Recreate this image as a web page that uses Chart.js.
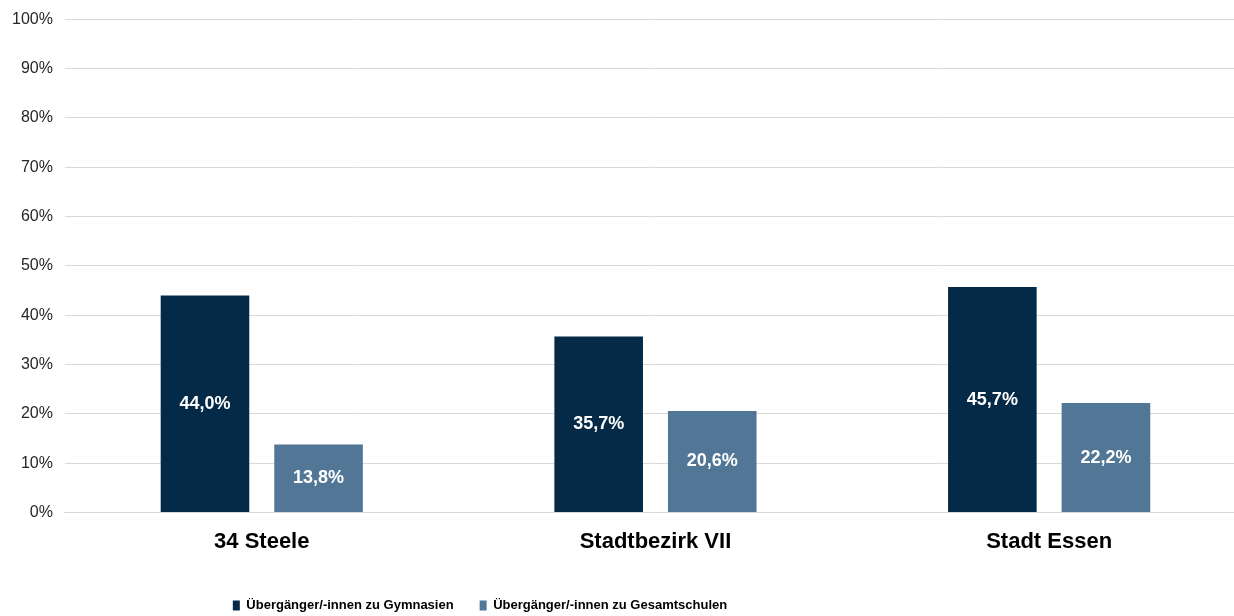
<!DOCTYPE html>
<html>
<head>
<meta charset="utf-8">
<script src="https://cdn.jsdelivr.net/npm/chart.js@4/dist/chart.umd.min.js"></script>
<style>
  html, body { margin: 0; padding: 0; background: #fff; }
  #wrap { width: 1234px; height: 616px; position: relative; }
</style>
</head>
<body>
<div id="wrap"><canvas id="chart"></canvas></div>
<script>
const categories = ['34 Steele', 'Stadtbezirk VII', 'Stadt Essen'];
const gymnasien = [44.0, 35.7, 45.7];
const gesamtschulen = [13.8, 20.6, 22.2];
const seriesNames = ['Übergänger/-innen zu Gymnasien', 'Übergänger/-innen zu Gesamtschulen'];
const yTicks = [0, 10, 20, 30, 40, 50, 60, 70, 80, 90, 100];

const darkBlue = '#052a47';
const steelBlue = '#527796';
const fontFamily = '"Liberation Sans", Arial, sans-serif';

// white value labels centered in each bar
const barLabels = {
  id: 'barLabels',
  afterDatasetsDraw(chart) {
    const ctx = chart.ctx;
    ctx.save();
    ctx.fillStyle = '#ffffff';
    ctx.font = 'bold 18px ' + fontFamily;
    ctx.textAlign = 'center';
    ctx.textBaseline = 'middle';
    chart.data.datasets.forEach((ds, i) => {
      chart.getDatasetMeta(i).data.forEach((bar, j) => {
        const txt = ds.data[j].toFixed(1).replace('.', ',') + '%';
        ctx.fillText(txt, bar.x, (bar.y + bar.base) / 2);
      });
    });
    ctx.restore();
  }
};

// the plot runs a little past the right edge; legend sits left of centre
const layoutTweaks = {
  id: 'layoutTweaks',
  afterLayout(chart) {
    const x = chart.scales.x;
    x.right += 12;
    x.width += 12;
    x.configure();

    const lg = chart.legend;
    lg.left -= 137;
    lg.right -= 137;
    lg.top += 6;
    lg.bottom += 6;
  }
};

new Chart(document.getElementById('chart').getContext('2d'), {
  type: 'bar',
  data: {
    labels: categories,
    datasets: [{
      label: seriesNames[0], data: gymnasien, backgroundColor: darkBlue
    }, {
      label: seriesNames[1], data: gesamtschulen, backgroundColor: steelBlue
    }]
  },
  options: {
    responsive: true, maintainAspectRatio: false, animation: false,
    layout: { padding: { top: 0, right: 0, left: 0, bottom: 0 } },
    datasets: { bar: { categoryPercentage: 0.577, barPercentage: 0.78 } },
    scales: {
      x: {
        grid: { display: false, drawTicks: false },
        border: { color: '#d9d9d9', width: 1 },
        ticks: { color: '#000', padding: 16, font: { family: fontFamily, size: 22, weight: 'bold' } },
        afterFit(scale) { scale.height -= 4; }
      },
      y: {
        min: 0, max: 100,
        afterBuildTicks(scale) { scale.ticks = yTicks.map(v => ({ value: v })); },
        grid: { color: '#d9d9d9', drawTicks: false },
        border: { display: false },
        ticks: {
          color: '#262626', padding: 12,
          font: { family: fontFamily, size: 16, lineHeight: 0.9 },
          callback: v => v + '%'
        }
      }
    },
    plugins: {
      legend: {
        position: 'bottom',
        labels: {
          usePointStyle: true, pointStyle: 'rect', boxWidth: 7, boxHeight: 10, pointStyleWidth: 7,
          padding: 26, color: '#000',
          font: { family: fontFamily, size: 13, weight: 'bold' }
        }
      },
      title: { display: false },
      tooltip: { enabled: false }
    }
  },
  plugins: [barLabels, layoutTweaks]
});
</script>
</body>
</html>
